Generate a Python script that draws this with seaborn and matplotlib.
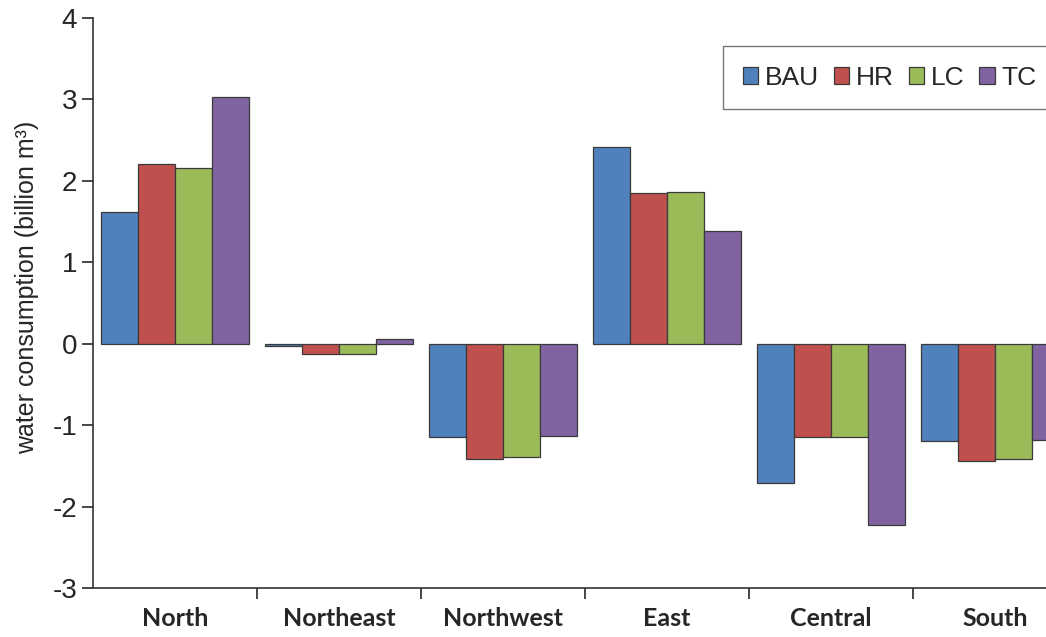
import numpy as np
import pandas as pd
import matplotlib
matplotlib.use("Agg")
import matplotlib.pyplot as plt
import seaborn as sns

# 地域とシナリオ
regions = ["North", "Northeast", "Northwest", "East", "Central", "South"]
scenarios = ["BAU", "HR", "LC", "TC"]

bau = [1.62, -0.03, -1.15, 2.41, -1.71, -1.19]
hr = [2.21, -0.12, -1.41, 1.85, -1.15, -1.44]
lc = [2.16, -0.12, -1.39, 1.86, -1.14, -1.42]
tc = [3.03, 0.06, -1.13, 1.39, -2.22, -1.18]

colors = ["#4F81BD", "#C0504D", "#9BBB59", "#8064A2"]

# long-form table
rows = []
for name, vals in zip(scenarios, [bau, hr, lc, tc]):
    for reg, v in zip(regions, vals):
        rows.append({"region": reg, "scenario": name, "value": v})
df = pd.DataFrame(rows)

sns.set_style("ticks")
plt.rcParams["font.family"] = ["Liberation Sans", "DejaVu Sans"]
plt.rcParams["axes.unicode_minus"] = False

fig = plt.figure(figsize=(10.46, 6.37), dpi=100)
ax = fig.add_axes([0.0889, 0.0769, 0.9407, 0.8948])

sns.barplot(data=df, x="region", y="value", hue="scenario",
            order=regions, hue_order=scenarios, palette=colors,
            saturation=1, width=0.9, edgecolor="#3a3a3a", linewidth=0.9,
            errorbar=None, ax=ax)

ax.set_xlim(-0.5, 5.5)
ax.set_ylim(-3, 4)
ax.set_yticks(np.arange(-3, 5, 1))
ax.tick_params(axis="y", labelsize=20, length=8, width=1.2, direction="out")
for lab in ax.get_yticklabels():
    lab.set_fontfamily(["Liberation Sans", "DejaVu Sans"])
ax.set_ylabel("water consumption (billion m³)", fontsize=18,
              family=["Liberation Sans", "DejaVu Sans"])
ax.yaxis.set_label_coords(-0.055, 0.528)
ax.set_xlabel("")

# カテゴリ境界の目盛り
ax.set_xticks(np.arange(0.5, 5.5, 1), minor=True)
ax.tick_params(axis="x", which="major", length=0, pad=14)
ax.tick_params(axis="x", which="minor", length=8, width=1.2, direction="out")
for lab in ax.get_xticklabels():
    lab.set_fontfamily(["Lato", "DejaVu Sans"])
    lab.set_fontweight("bold")
    lab.set_fontsize(18)

for side in ["top", "right"]:
    ax.spines[side].set_visible(False)
for side in ["left", "bottom"]:
    ax.spines[side].set_linewidth(1.2)
    ax.spines[side].set_color("#333333")

handles, labels = ax.get_legend_handles_labels()
ax.legend(handles, labels, ncol=4, loc="upper left",
          bbox_to_anchor=(0.691, 0.928), bbox_transform=fig.transFigure,
          borderaxespad=0,
          prop={"family": ["Liberation Sans", "DejaVu Sans"], "size": 19},
          frameon=True, fancybox=False, edgecolor="#555555",
          handlelength=0.6, handleheight=0.6, handletextpad=0.25,
          columnspacing=0.55, borderpad=0.75)

fig.savefig("out.png", dpi=100)
